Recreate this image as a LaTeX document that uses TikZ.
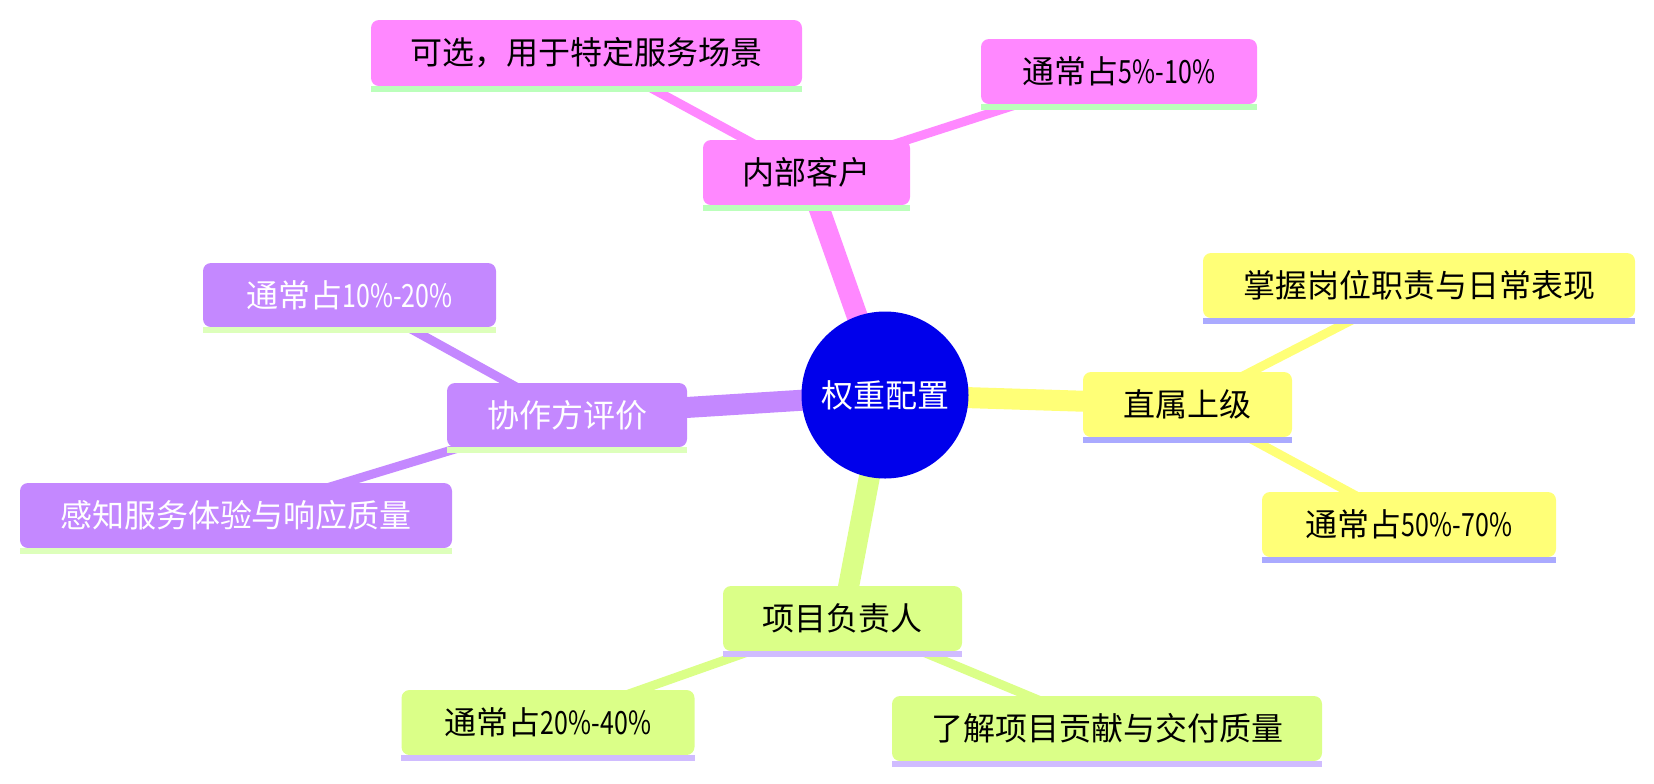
\documentclass[tikz,border=0pt]{standalone}
\usepackage{fontspec}
\newfontfamily\cjk{Noto Sans CJK SC}
\newfontfamily\latn[FakeStretch=0.78]{Noto Sans CJK SC}
\newcommand\lt[1]{{\latn #1}}
\usetikzlibrary{backgrounds}
\definecolor{rootblue}{RGB}{0,0,235}
\definecolor{pinkf}{RGB}{255,136,255}
\definecolor{pinkl}{RGB}{187,255,187}
\definecolor{yelf}{RGB}{255,255,119}
\definecolor{yell}{RGB}{170,170,255}
\definecolor{purf}{RGB}{196,136,255}
\definecolor{purl}{RGB}{221,255,187}
\definecolor{grnf}{RGB}{219,255,136}
\definecolor{grnl}{RGB}{208,188,255}
\tikzset{
  mmbox/.style={rectangle, rounded corners=4pt, inner sep=0pt, font=\cjk\fontsize{16}{19}\selectfont},
  rootnode/.style={circle, fill=rootblue, text=white, inner sep=0pt, minimum size=83.5pt, font=\cjk\fontsize{16}{19}\selectfont},
  thickedge/.style={line width=10.5pt},
  thinedge/.style={line width=4.5pt},
}
\newcommand\mmnode[9]{%
  \node[mmbox, fill=#6, text=#8, minimum width=#4pt, minimum height=#5pt] (#1) at (#2,#3) {#9};
  \fill[#7] (#1.south west) rectangle ([yshift=-2.75pt]#1.south east);
}
\begin{document}
\begin{tikzpicture}[x=0.5pt,y=-0.5pt]
\path[use as bounding box] (0,0) rectangle (1654,783);
\node[rootnode] (root) at (885,395) {权重配置};
\mmnode{A}{1187.5}{404.5}{104.5}{32.5}{yelf}{yell}{black}{直属上级}
\mmnode{A1}{1419}{285.5}{216}{32.5}{yelf}{yell}{black}{掌握岗位职责与日常表现}
\mmnode{A2}{1409}{524.5}{147}{32.5}{yelf}{yell}{black}{通常占\lt{50\%-70\%}}
\mmnode{B}{806.5}{172.5}{103.5}{32.5}{pinkf}{pinkl}{black}{内部客户}
\mmnode{B1}{586.5}{53}{215.5}{33}{pinkf}{pinkl}{black}{可选，用于特定服务场景}
\mmnode{B2}{1119}{71.5}{138}{32.5}{pinkf}{pinkl}{black}{通常占\lt{5\%-10\%}}
\mmnode{C}{567}{415}{120}{32}{purf}{purl}{white}{协作方评价}
\mmnode{C1}{349.5}{295}{146.5}{32}{purf}{purl}{white}{通常占\lt{10\%-20\%}}
\mmnode{C2}{236}{515.5}{216}{32.5}{purf}{purl}{white}{感知服务体验与响应质量}
\mmnode{D}{842.5}{618.5}{119.5}{32.5}{grnf}{grnl}{black}{项目负责人}
\mmnode{D1}{548}{722.5}{146.5}{32.5}{grnf}{grnl}{black}{通常占\lt{20\%-40\%}}
\mmnode{D2}{1107}{728.5}{215}{32.5}{grnf}{grnl}{black}{了解项目贡献与交付质量}
\begin{pgfonlayer}{background}
\draw[thickedge, yelf] (root.center) -- (A.center);
\draw[thickedge, pinkf] (root.center) -- (B.center);
\draw[thickedge, purf] (root.center) -- (C.center);
\draw[thickedge, grnf] (root.center) -- (D.center);
\draw[thinedge, yelf] (A.center) -- (A1.center);
\draw[thinedge, yelf] (A.center) -- (A2.center);
\draw[thinedge, pinkf] (B.center) -- (B1.center);
\draw[thinedge, pinkf] (B.center) -- (B2.center);
\draw[thinedge, purf] (C.center) -- (C1.center);
\draw[thinedge, purf] (C.center) -- (C2.center);
\draw[thinedge, grnf] (D.center) -- (D1.center);
\draw[thinedge, grnf] (D.center) -- (D2.center);
\end{pgfonlayer}
\end{tikzpicture}
\end{document}
